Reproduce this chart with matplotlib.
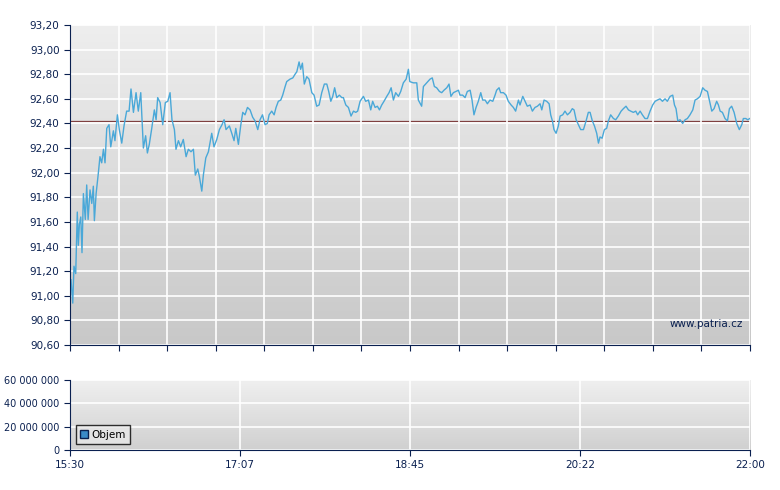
import numpy as np
import matplotlib.pyplot as plt
from matplotlib.patches import Patch

# minutes since 15:30 and price
minutes = [0.6, 1.6, 2.3, 3.3, 4.2, 4.8, 5.4, 6.2, 6.9, 7.7, 8.8, 9.6, 10.4, 11.5, 12.5, 13.4, 14.0, 15.0,
           16.3, 17.2, 18.2, 19.2, 20.1, 21.1, 22.4, 23.4, 24.9, 25.8, 27.2, 28.3, 29.7, 31.0, 32.5, 33.9,
           35.0, 36.4, 37.9, 39.2, 40.6, 42.1, 43.4, 44.4, 45.5, 46.9, 48.4, 49.4, 50.3, 51.7, 53.2, 54.7,
           56.1, 57.4, 58.5, 59.9, 60.8, 62.2, 63.5, 65.0, 66.6, 67.9, 69.4, 70.8, 71.9, 73.3, 74.2, 75.6,
           76.5, 77.9, 79.4, 81.3, 82.6, 84.2, 85.7, 87.2, 88.4, 89.5, 91.4, 92.8, 94.1, 95.1, 96.6, 97.9,
           99.1, 100.4, 101.8, 103.3, 104.8, 106.2, 107.7, 109.0, 110.4, 111.9, 113.2, 114.2, 115.7, 117.1,
           118.2, 119.5, 120.9, 122.0, 123.4, 124.3, 126.2, 127.8, 129.1, 130.1, 131.4, 132.3, 133.3, 134.4,
           135.8, 137.1, 138.7, 140.0, 141.5, 142.9, 144.4, 145.9, 147.3, 148.4, 149.6, 150.7, 151.8, 153.0,
           154.5, 155.9, 156.8, 158.2, 159.7, 161.2, 162.6, 163.9, 165.0, 166.4, 168.3, 169.6, 171.2, 172.5,
           173.6, 175.0, 176.3, 177.5, 178.8, 180.1, 181.7, 183.0, 184.2, 185.5, 186.8, 188.4, 189.7, 191.2,
           192.8, 194.1, 194.9, 196.9, 198.9, 199.8, 201.7, 202.7, 204.6, 206.5, 207.8, 209.0, 210.3, 211.9,
           213.2, 214.5, 216.1, 217.4, 218.5, 219.9, 221.4, 222.8, 223.7, 225.2, 226.6, 227.9, 229.5, 230.6,
           231.7, 232.9, 234.2, 235.6, 236.7, 238.1, 239.4, 240.9, 242.5, 243.8, 244.7, 246.1, 247.0, 248.6,
           250.1, 251.4, 253.0, 254.3, 255.6, 257.2, 258.1, 259.7, 261.0, 262.3, 263.9, 265.2, 266.7, 268.1,
           269.6, 270.6, 271.9, 273.4, 274.8, 275.7, 276.7, 277.6, 278.8, 280.1, 281.1, 282.6, 283.9, 285.3,
           286.8, 288.1, 289.1, 290.3, 291.6, 292.9, 294.5, 296.0, 297.3, 298.3, 299.6, 300.8, 302.1, 303.1,
           304.0, 305.2, 306.5, 307.8, 308.8, 310.1, 311.7, 313.0, 314.5, 316.1, 317.4, 318.9, 320.3, 321.6,
           323.1, 324.5, 325.6, 327.0, 328.3, 329.8, 331.2, 332.7, 334.2, 335.6, 336.9, 338.4, 339.8, 341.3,
           342.6, 344.2, 345.7, 346.7, 347.6, 348.6, 349.9, 351.4, 352.8, 354.1, 355.6, 357.2, 358.5, 359.8,
           361.4, 362.9, 364.2, 365.6, 366.7, 368.1, 369.4, 370.9, 371.9, 372.9, 374.2, 375.7, 377.1, 378.2,
           379.5, 380.9, 382.4, 383.9, 385.3, 386.2, 387.6, 388.7, 389.9]
prices = [91.13, 90.94, 91.24, 91.18, 91.68, 91.41, 91.58, 91.64, 91.35, 91.83, 91.62, 91.90, 91.62, 91.86,
          91.75, 91.89, 91.61, 91.83, 92.00, 92.13, 92.08, 92.19, 92.08, 92.36, 92.39, 92.21, 92.34, 92.26,
          92.47, 92.35, 92.24, 92.38, 92.50, 92.50, 92.68, 92.49, 92.65, 92.50, 92.65, 92.20, 92.30, 92.16,
          92.23, 92.36, 92.51, 92.43, 92.61, 92.57, 92.39, 92.57, 92.58, 92.65, 92.43, 92.35, 92.19, 92.26,
          92.21, 92.27, 92.13, 92.19, 92.17, 92.19, 91.98, 92.03, 91.97, 91.85, 91.98, 92.12, 92.17, 92.32,
          92.21, 92.27, 92.35, 92.39, 92.43, 92.35, 92.38, 92.32, 92.26, 92.36, 92.23, 92.38, 92.49, 92.47,
          92.53, 92.51, 92.45, 92.42, 92.35, 92.43, 92.47, 92.39, 92.40, 92.47, 92.50, 92.47, 92.53, 92.58,
          92.59, 92.63, 92.70, 92.74, 92.76, 92.77, 92.80, 92.82, 92.90, 92.84, 92.89, 92.72, 92.78, 92.76,
          92.65, 92.63, 92.54, 92.55, 92.65, 92.72, 92.72, 92.66, 92.58, 92.62, 92.69, 92.61, 92.63, 92.61,
          92.61, 92.55, 92.53, 92.46, 92.50, 92.49, 92.50, 92.58, 92.62, 92.58, 92.59, 92.51, 92.58, 92.53,
          92.54, 92.51, 92.55, 92.58, 92.62, 92.65, 92.69, 92.59, 92.65, 92.62, 92.66, 92.73, 92.76, 92.84,
          92.74, 92.73, 92.73, 92.59, 92.54, 92.70, 92.73, 92.76, 92.77, 92.70, 92.69, 92.66, 92.65, 92.67,
          92.69, 92.72, 92.62, 92.65, 92.66, 92.67, 92.63, 92.63, 92.61, 92.66, 92.67, 92.59, 92.47, 92.53,
          92.58, 92.65, 92.59, 92.59, 92.56, 92.59, 92.58, 92.63, 92.67, 92.69, 92.65, 92.65, 92.63, 92.58,
          92.55, 92.53, 92.50, 92.59, 92.55, 92.62, 92.58, 92.54, 92.55, 92.50, 92.53, 92.54, 92.56, 92.51,
          92.59, 92.58, 92.56, 92.47, 92.42, 92.35, 92.32, 92.38, 92.46, 92.47, 92.50, 92.47, 92.49, 92.52,
          92.51, 92.43, 92.39, 92.35, 92.35, 92.42, 92.49, 92.49, 92.42, 92.38, 92.32, 92.24, 92.29, 92.28,
          92.35, 92.36, 92.42, 92.47, 92.44, 92.43, 92.46, 92.50, 92.52, 92.54, 92.51, 92.50, 92.49, 92.50,
          92.47, 92.50, 92.47, 92.44, 92.44, 92.50, 92.55, 92.58, 92.59, 92.60, 92.58, 92.60, 92.58, 92.62,
          92.63, 92.55, 92.52, 92.42, 92.43, 92.40, 92.43, 92.44, 92.47, 92.51, 92.59, 92.60, 92.62, 92.69,
          92.67, 92.66, 92.59, 92.50, 92.52, 92.58, 92.55, 92.50, 92.49, 92.44, 92.42, 92.52, 92.54, 92.49,
          92.40, 92.35, 92.39, 92.44, 92.44, 92.43, 92.44]
prev_close = 92.42

price_ticks = [90.6, 90.8, 91.0, 91.2, 91.4, 91.6, 91.8, 92.0, 92.2, 92.4, 92.6, 92.8, 93.0, 93.2]
vol_ticks = [0, 20e6, 40e6, 60e6]
vol_labels = ["0", "20 000 000", "40 000 000", "60 000 000"]
time_ticks = [0, 97.5, 195, 292.5, 390]
time_labels = ["15:30", "17:07", "18:45", "20:22", "22:00"]

NAVY = "#0a2050"
LINE = "#4aa8d8"

fig = plt.figure(figsize=(7.8, 4.9), dpi=100)
ax = fig.add_axes([0.0897, 0.296, 0.8718, 0.653])
axv = fig.add_axes([0.0897, 0.0816, 0.8718, 0.143])


def gradient(a, top, bottom):
    g = np.linspace(0, 1, 256).reshape(-1, 1)
    c0 = np.array(plt.matplotlib.colors.to_rgb(top))
    c1 = np.array(plt.matplotlib.colors.to_rgb(bottom))
    img = c0 + (c1 - c0) * g[..., None]
    a.imshow(img, extent=[0, 1, 0, 1], transform=a.transAxes, aspect="auto", zorder=0)


gradient(ax, "#eeeeee", "#c8c8c8")
gradient(axv, "#f0f0f0", "#d0d0d0")

ax.plot(minutes, prices, color=LINE, linewidth=1.0, zorder=3)
ax.axhline(prev_close, color="#804040", linewidth=0.9, zorder=2)
ax.set_xlim(0, 390)
ax.set_ylim(90.6, 93.2)
ax.set_yticks(price_ticks)
ax.set_yticklabels([f"{v:.2f}".replace(".", ",") for v in price_ticks])
ax.set_xticks(np.linspace(0, 390, 15))
ax.set_xticklabels([])
ax.grid(True, color="white", linewidth=1.2, zorder=1)
ax.set_axisbelow(False)
ax.text(0.99, 0.05, "www.patria.cz", transform=ax.transAxes, ha="right", va="bottom",
        fontsize=7.5, color=NAVY, zorder=4)

axv.set_xlim(0, 390)
axv.set_ylim(0, 60e6)
axv.set_yticks(vol_ticks)
axv.set_yticklabels(vol_labels)
axv.set_xticks(time_ticks)
axv.set_xticklabels(time_labels)
axv.grid(True, color="white", linewidth=1.2, zorder=1)
axv.legend(handles=[Patch(facecolor="#3a8ac8", edgecolor=NAVY, label="Objem")], loc="lower left",
           fontsize=7.5, frameon=True, fancybox=False, edgecolor="black", facecolor="#e8e8e8",
           handlelength=0.7, handleheight=0.7, handletextpad=0.4, borderaxespad=0.6)

for a in (ax, axv):
    a.tick_params(direction="out", length=4, color=NAVY, labelsize=7.5, labelcolor=NAVY)
    for side in ("top", "right"):
        a.spines[side].set_visible(False)
    for side in ("left", "bottom"):
        a.spines[side].set_color(NAVY)
        a.spines[side].set_zorder(5)
axv.tick_params(axis="y", labelsize=7)

fig.savefig("out.png", dpi=100)
